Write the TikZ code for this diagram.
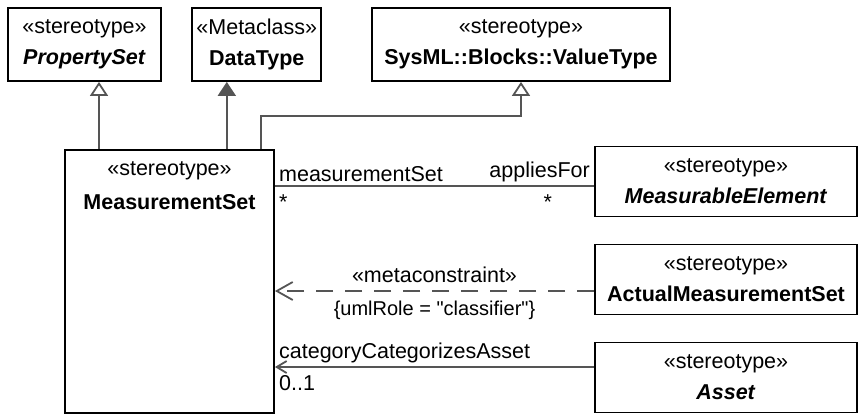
\documentclass[tikz,border=0pt]{standalone}
\usepackage{fontspec}
\setmainfont{Liberation Sans}[Ligatures=TeXOff]
\usetikzlibrary{positioning}
\usetikzlibrary{arrows.meta}

\definecolor{linegray}{RGB}{85,85,85}

\begin{document}
\begin{tikzpicture}[x=1pt,y=1pt,node distance=98pt,
  main node/.style={rectangle,draw,line width=1.8pt,inner sep=0pt,minimum height=73pt,align=center,font=\fontsize{21.5}{31}\selectfont},
  side node/.style={main node,minimum width=262pt,minimum height=70pt},
  label text/.style={font=\fontsize{21.5}{26}\selectfont},
  gen/.style={draw=linegray,line width=1.8pt,-{Triangle[open,length=14pt,width=18pt]}},
  filled gen/.style={draw=linegray,line width=1.8pt,-{Triangle[length=14pt,width=18pt,fill=linegray]}},
  assoc/.style={draw=linegray,line width=1.8pt},
  nav/.style={assoc,-{Straight Barb[length=10pt,width=12pt]}},
  dep/.style={assoc,dash pattern=on 17pt off 12pt,-{Straight Barb[length=16pt,width=18pt]}}]
  \useasboundingbox (0,0) rectangle (859,-416);

  % top row
  \node[main node,minimum width=153pt] (a) at (84.5,-44.5) {«stereotype»\\\textbf{\textit{PropertySet}}};
  \node[main node,minimum width=129pt] (b) at (256.8,-44.5) {«Metaclass»\\\textbf{DataType}};
  \node[main node,minimum width=298pt] (c) at (521,-44.5) {«stereotype»\\\textbf{SysML::Blocks::ValueType}};

  % the stereotype itself
  \node[main node,minimum width=209pt,minimum height=263pt] (d) at (169.5,-281.5) {};
  \node[align=center,inner sep=0pt,font=\fontsize{21.5}{34}\selectfont,below=12pt of d.north] (d text) {«stereotype»\\\textbf{MeasurementSet}};

  % right column
  \node[side node] (e) at (726,-181.5) {«stereotype»\\\textbf{\textit{MeasurableElement}}};
  \node[side node] (f) [below of=e] {«stereotype»\\\textbf{ActualMeasurementSet}};
  \node[side node] (g) [below of=f] {«stereotype»\\\textbf{\textit{Asset}}};

  \draw[gen] ([xshift=14.5pt]a.south |- d.north) -- ([xshift=14.5pt]a.south);
  \draw[filled gen] ([xshift=-30pt]b.south |- d.north) -- ([xshift=-30pt]b.south);
  \draw[gen] ([xshift=-14pt]d.north east) -- ++(0,33.5) -| (c.south);

  \draw[assoc] ([yshift=-4.5pt]e.west) -- ([yshift=-4.5pt]e.west -| d.east)
    node[label text,pos=0,above left] {appliesFor}
    node[label text,pos=0,below left,xshift=-38pt,yshift=-4pt] {*}
    node[label text,pos=1,above right] {measurementSet}
    node[label text,pos=1,below right,yshift=-4pt] {*};

  \draw[dep] ([yshift=-11.5pt]f.west) -- ([yshift=-11.5pt]f.west -| d.east)
    node[label text,midway,above,yshift=4pt] {«metaconstraint»}
    node[label text,midway,below,yshift=-6pt,font=\fontsize{20}{24}\selectfont] {\{umlRole = "classifier"\}};

  \draw[nav] ([yshift=10.5pt]g.west) -- ([yshift=10.5pt]g.west -| d.east)
    node[label text,pos=1,above right] {categoryCategorizesAsset}
    node[label text,pos=1,below right,yshift=-4pt] {0..1};
\end{tikzpicture}
\end{document}
